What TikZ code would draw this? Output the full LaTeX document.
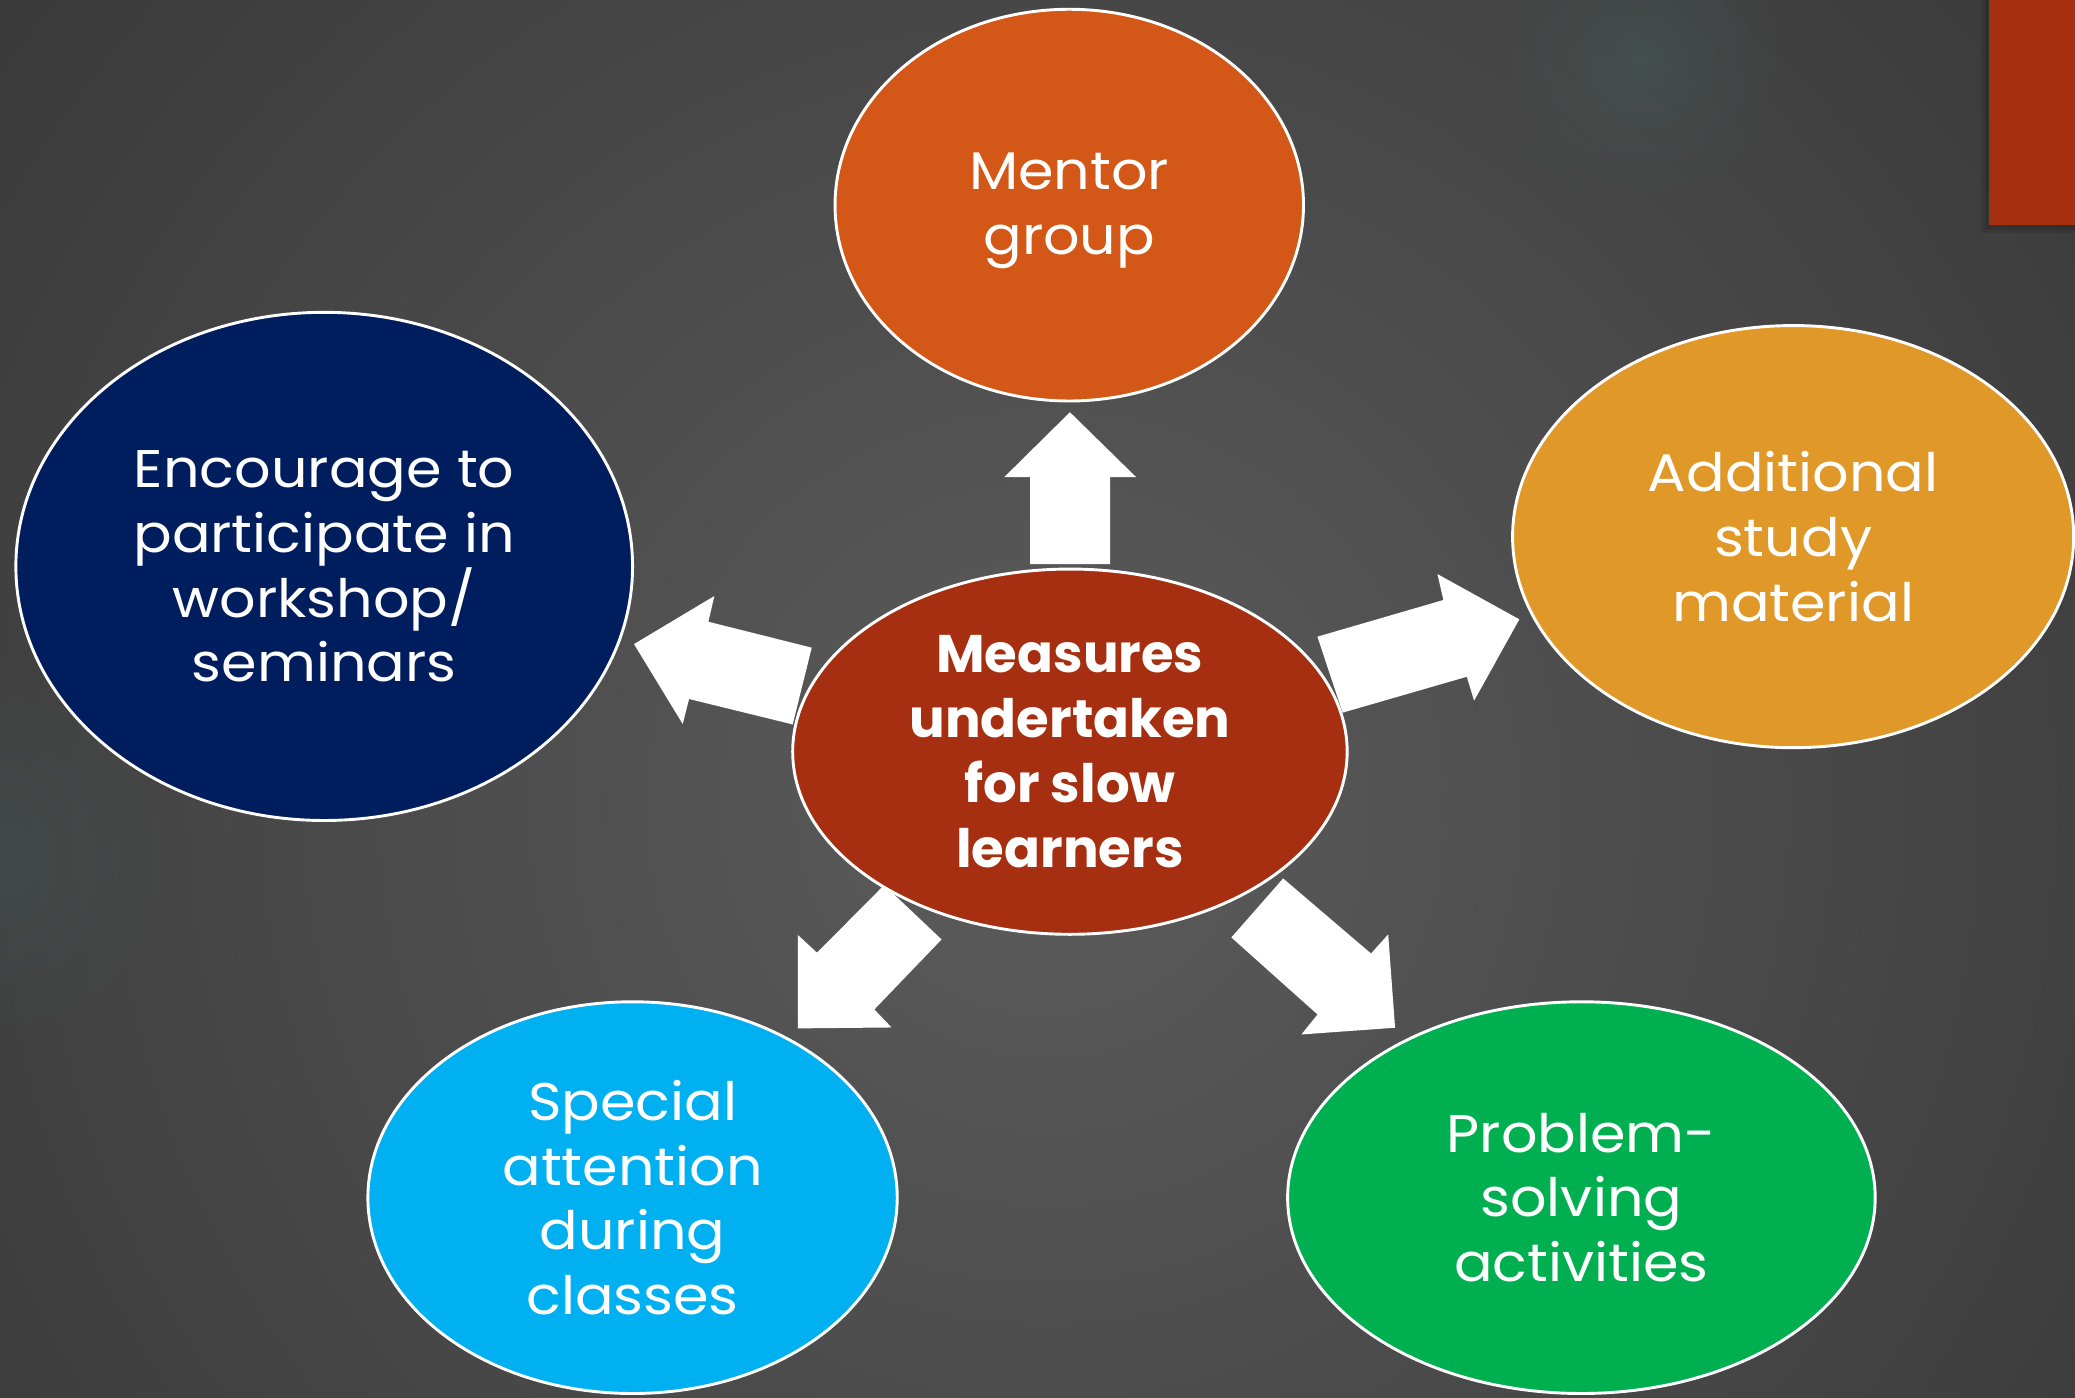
\documentclass[tikz,border=0pt]{standalone}
\usepackage{fontspec}
\setmainfont{Poppins}
\newfontfamily\widefont{Poppins}[FakeStretch=1.08]
\usetikzlibrary{shapes.geometric,fadings}
\definecolor{bgin}{RGB}{92,92,92}
\definecolor{bgout}{RGB}{40,40,40}
\definecolor{cmentor}{RGB}{211,87,22}
\definecolor{cadd}{RGB}{224,152,40}
\definecolor{cenc}{RGB}{0,30,94}
\definecolor{ccent}{RGB}{165,47,16}
\definecolor{cspec}{RGB}{0,176,240}
\definecolor{cprob}{RGB}{0,176,80}
\definecolor{credbar}{RGB}{165,48,15}
\definecolor{glow}{RGB}{70,100,95}
\tikzfading[name=softglow, inner color=transparent!0, outer color=transparent!100]
\begin{document}
\begin{tikzpicture}[x=0.5pt,y=-0.5pt,
  bubble/.style={ellipse, draw=white, line width=1.1pt, inner sep=0pt,
    text=white, align=center, font=\widefont\fontsize{20}{24.5}\selectfont},
  bubbletext/.style={inner sep=0pt, text=white, align=center,
    font=\widefont\fontsize{20}{24.5}\selectfont},
  centrebubble/.style={bubble, font=\fontsize{20}{24.5}\selectfont\bfseries},
  blockarrow/.style={fill=white, draw=none}]
% background
\useasboundingbox (0,0) rectangle (1568,1056);
\begin{scope}
  \clip (0,0) rectangle (1568,1056);
  \fill[bgout] (0,0) rectangle (1568,1056);
  \shade[inner color=bgin, outer color=bgout] (790,610) circle (1500);
  \fill[glow, path fading=softglow, fill opacity=0.35] (1240,45) circle (110);
  \fill[glow, path fading=softglow, fill opacity=0.25] (0,650) circle (140);
  % red bar with soft shadow
  \fill[black, opacity=0.10] (1497,0) rectangle (1568,176);
  \fill[black, opacity=0.12] (1500,0) rectangle (1568,173);
  \fill[credbar] (1503,0) rectangle (1568,170);
\end{scope}
% block arrows from the centre
\fill[blockarrow] (778.5,426.2) -- (778.5,360.6) -- (758.8,360.6) -- (808.5,311.5)
  -- (858.6,360.6) -- (838.9,360.6) -- (838.9,426.2) -- cycle;
\fill[blockarrow] (613.4,489.4) -- (535.3,469.8) -- (539.8,450.4) -- (479.1,486.7)
  -- (515.9,547.1) -- (520.7,528.2) -- (599.0,547.4) -- cycle;
\fill[blockarrow] (995.5,481.1) -- (1090.7,453.4) -- (1086.2,433.8) -- (1148.1,468)
  -- (1113.9,529.5) -- (1108.4,511.4) -- (1014.6,538.5) -- cycle;
\fill[blockarrow] (668.1,668.8) -- (711.5,709.9) -- (660.7,762.8) -- (673.7,776.4)
  -- (603.0,777.1) -- (603.0,706.6) -- (617.4,719.9) -- cycle;
\fill[blockarrow] (969.6,663.8) -- (1036,720.5) -- (1049,706.1) -- (1054.2,776.6)
  -- (983.4,781.7) -- (995.6,766.6) -- (930.5,708.4) -- cycle;
% bubbles
\node[bubble, fill=cmentor, minimum width=177pt, minimum height=148pt] (mentor) at (808,155) {};
\node[bubbletext] (mentortext) at (808,159) {Mentor\\group};
\node[bubble, fill=cadd, minimum width=212pt, minimum height=159.5pt] (additional) at (1355,405.5) {Additional\\study\\material};
\node[bubble, fill=cenc, minimum width=233pt, minimum height=192pt] (encourage) at (245,428) {Encourage to\\participate in\\workshop/\\seminars};
\node[bubble, fill=cspec, minimum width=200pt, minimum height=148pt] (special) at (478,905) {Special\\attention\\during\\classes};
\node[bubble, fill=cprob, minimum width=222pt, minimum height=148pt] (problem) at (1195,905) {Problem-\\solving\\activities};
\node[centrebubble, fill=ccent, minimum width=209.5pt, minimum height=138pt] (centre) at (808.5,568) {Measures\\undertaken\\for slow\\learners};
\end{tikzpicture}
\end{document}
